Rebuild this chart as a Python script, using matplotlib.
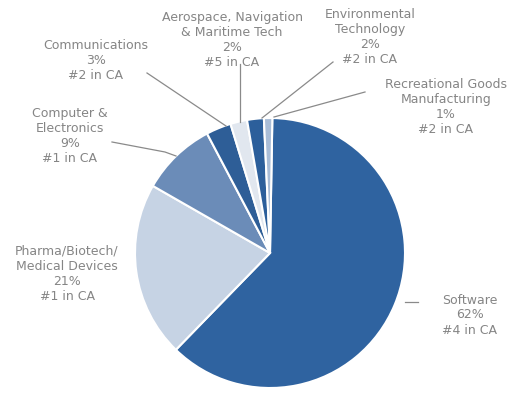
import matplotlib
matplotlib.use("Agg")
import matplotlib.pyplot as plt

categories = ["Software", "Pharma/Biotech/\nMedical Devices", "Computer &\nElectronics",
              "Communications", "Aerospace, Navigation\n& Maritime Tech",
              "Environmental\nTechnology", "Recreational Goods\nManufacturing"]
shares = [62, 21, 9, 3, 2, 2, 1]
ranks = ["#4 in CA", "#1 in CA", "#1 in CA", "#2 in CA", "#5 in CA", "#2 in CA", "#2 in CA"]
colors = ["#2f63a0", "#c6d3e4", "#6b8cb8", "#2e5e97", "#e1e7ef", "#2c5f9b", "#a9bdd7"]

W, H = 515, 394
fig = plt.figure(figsize=(W / 100, H / 100), dpi=100)
ax = fig.add_axes([0, 0, 1, 1])

cx, cy, r = 270, H - 253, 135
ax.pie(shares, colors=colors, startangle=89, counterclock=False,
       center=(cx, cy), radius=r, frame=True,
       wedgeprops=dict(edgecolor="white", linewidth=1.5))
ax.set_xlim(0, W)
ax.set_ylim(0, H)
ax.set_aspect("equal")
ax.axis("off")

# label positions (image px: x, y of text block centre)
label_pos = [(470, 315), (67, 274), (70, 136), (96, 60), (232, 40), (370, 37), (446, 107)]
# leader lines in image px
leaders = [
    [(405, 302), (418, 302)],
    None,
    [(112, 142), (165, 152), (176, 156)],
    [(147, 73), (226, 126)],
    [(240, 64), (240, 122)],
    [(333, 62), (262, 118)],
    [(365, 92), (274, 117)],
]
for cat, s, rk, (px, py), ld in zip(categories, shares, ranks, label_pos, leaders):
    ax.text(px, H - py, f"{cat}\n{s}%\n{rk}", ha="center", va="center",
            fontsize=9, color="#858585", linespacing=1.2, family="DejaVu Sans")
    if ld:
        xs = [p[0] for p in ld]
        ys = [H - p[1] for p in ld]
        ax.plot(xs, ys, color="#8a8a8a", lw=0.9)

fig.savefig("out.png", dpi=100, facecolor="white")
